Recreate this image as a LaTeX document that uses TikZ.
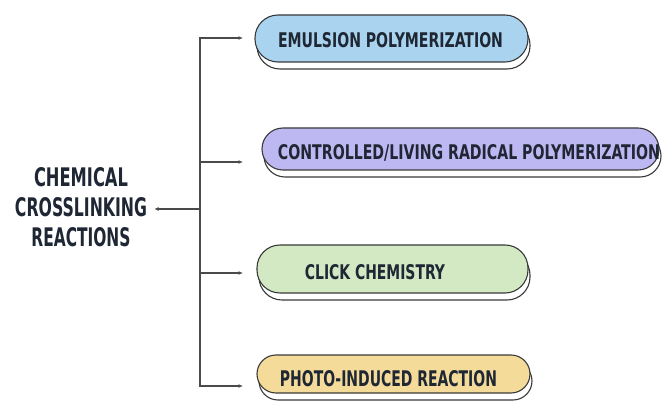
\documentclass[tikz,border=0pt]{standalone}
\usepackage{fontspec}
\usepackage{graphicx}
\usetikzlibrary{shadows,arrows.meta}
\newfontfamily\hand{DejaVu Sans Condensed}
\definecolor{fillA}{HTML}{A9D3EF}
\definecolor{fillB}{HTML}{BDB8F2}
\definecolor{fillC}{HTML}{D2E9C4}
\definecolor{fillD}{HTML}{F4DB9A}
\definecolor{edge}{HTML}{3A3A3A}
\definecolor{wire}{HTML}{4A4A4A}
\definecolor{ink}{HTML}{1E2733}
\begin{document}
\begin{tikzpicture}[x=1pt,y=-1pt,
  pill/.style={draw=edge, line width=1.1pt, inner sep=0pt,
    copy shadow={shadow xshift=2pt, shadow yshift=-7pt, fill=white, draw=edge, line width=1.1pt}},
  lab/.style={inner sep=0pt, text=ink, font=\hand\bfseries},
  conn/.style={draw=wire, line width=1.1pt},
  tip/.tip={Latex[length=4.5pt,width=4pt]}]
\useasboundingbox (0,0) rectangle (662,401);
\fill[white] (0,0) rectangle (662,401);

% boxes
\node[pill, fill=fillA, minimum width=273pt, minimum height=47pt, rounded corners=23pt] (b1) at (391.5,38.5) {};
\node[pill, fill=fillB, minimum width=397pt, minimum height=42pt, rounded corners=21pt] (b2) at (460.5,149) {};
\node[pill, fill=fillC, minimum width=271pt, minimum height=48pt, rounded corners=23pt] (b3) at (392.5,269) {};
\node[pill, fill=fillD, minimum width=273pt, minimum height=38pt, rounded corners=19pt] (b4) at (393.5,374) {};

% texts
\node[lab] (t1) at (390.5,40.5) {\resizebox{225pt}{15pt}{EMULSION POLYMERIZATION}};
\node[lab] (t2) at (469,152.5) {\resizebox{382pt}{15pt}{CONTROLLED/LIVING RADICAL POLYMERIZATION}};
\node[lab] (t3) at (375,272.5) {\resizebox{140pt}{15pt}{CLICK CHEMISTRY}};
\node[lab] (t4) at (388.5,378.5) {\resizebox{217pt}{16pt}{PHOTO-INDUCED REACTION}};

\node[lab, align=center, font=\hand\bfseries\fontsize{20}{30}\selectfont] (src) at (81,207.5)
  {\resizebox{94pt}{19pt}{CHEMICAL}\\\resizebox{132pt}{19pt}{CROSSLINKING}\\\resizebox{99pt}{19pt}{REACTIONS}};

% connectors
\coordinate (top) at (200,38);
\coordinate (bot) at (200,386);
\coordinate (j) at (200,209);
\coordinate (k2) at (200,162);
\coordinate (k3) at (200,273);
\coordinate (a1) at (243,38);
\coordinate (a2) at (243,162);
\coordinate (a3) at (243,273);
\coordinate (a4) at (243,386);

\draw[conn, tip-tip] (a1) -- (top) -- (bot) -- (a4);
\draw[conn, -tip] (k2) -- (a2);
\draw[conn, -tip] (k3) -- (a3);
\draw[conn, -tip, shorten >=7pt] (j) -- (j -| src.east);
\end{tikzpicture}
\end{document}
